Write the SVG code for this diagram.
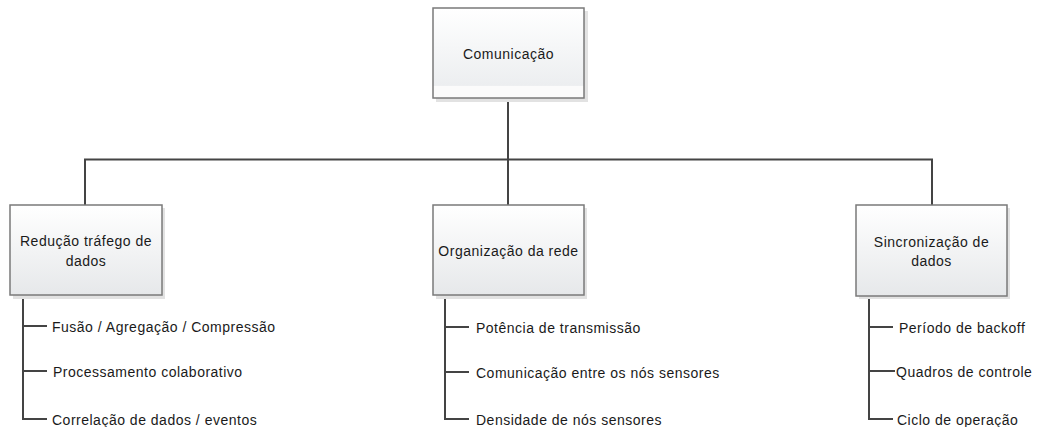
<svg xmlns="http://www.w3.org/2000/svg" width="1040" height="427" viewBox="0 0 1040 427">
<defs>
<linearGradient id="g" x1="0" y1="0" x2="0" y2="1">
<stop offset="0" stop-color="#ffffff"/>
<stop offset="1" stop-color="#e6e8ea"/>
</linearGradient>
<linearGradient id="gt" x1="0" y1="0" x2="0" y2="1">
<stop offset="0" stop-color="#ffffff"/>
<stop offset="0.86" stop-color="#eceef0"/>
<stop offset="0.87" stop-color="#fbfbfb"/>
<stop offset="1" stop-color="#fbfbfb"/>
</linearGradient>
</defs>
<style>
.box{stroke:#7a7a7a;stroke-width:1.5}
.sh{fill:#e2e2e2}
.t{font-family:"Liberation Sans",Arial,sans-serif;font-size:14px;letter-spacing:0.5px;fill:#1a1a1a}
.c{text-anchor:middle}
.ln{stroke:#444;stroke-width:2;fill:none}
</style>
<rect width="1040" height="427" fill="#ffffff"/>
<g id="connectors">
<path class="ln" d="M508 98V159.5M85 205V159.5H932V205M508 159.5V205"/>
<path class="ln" d="M23 295V419H47M23 326H47M23 371H47"/>
<path class="ln" d="M445 295V419H469M445 327H469M445 372H469"/>
<path class="ln" d="M869 296V419H893M869 327H893M869 371H895"/>
</g>
<g id="n-comunicacao">
<rect class="sh" x="436" y="11" width="152" height="91"/>
<rect class="box" x="433" y="8" width="151" height="90" fill="url(#gt)"/>
<text class="t c" x="508.5" y="59">Comunicação</text>
</g>
<g id="n-reducao">
<rect class="sh" x="13" y="208" width="152" height="91"/>
<rect class="box" x="10" y="205" width="152" height="90" fill="url(#g)"/>
<text class="t c" x="86" y="246">Redução tráfego de</text>
<text class="t c" x="86" y="266">dados</text>
</g>
<g id="n-organizacao">
<rect class="sh" x="436" y="208" width="151" height="91"/>
<rect class="box" x="433" y="205" width="151" height="90" fill="url(#g)"/>
<text class="t c" x="508.5" y="256">Organização da rede</text>
</g>
<g id="n-sincronizacao">
<rect class="sh" x="859" y="208" width="151" height="91"/>
<rect class="box" x="856" y="205" width="151" height="91" fill="url(#g)"/>
<text class="t c" x="931.5" y="247">Sincronização de</text>
<text class="t c" x="931.5" y="266">dados</text>
</g>
<g id="items-reducao">
<text class="t" x="52" y="332">Fusão / Agregação / Compressão</text>
<text class="t" x="53" y="377">Processamento colaborativo</text>
<text class="t" x="52" y="425">Correlação de dados / eventos</text>
</g>
<g id="items-organizacao">
<text class="t" x="476" y="333">Potência de transmissão</text>
<text class="t" x="476" y="378">Comunicação entre os nós sensores</text>
<text class="t" x="476" y="425">Densidade de nós sensores</text>
</g>
<g id="items-sincronizacao">
<text class="t" x="899" y="333">Período de backoff</text>
<text class="t" x="896" y="377">Quadros de controle</text>
<text class="t" x="897" y="425">Ciclo de operação</text>
</g>
</svg>
